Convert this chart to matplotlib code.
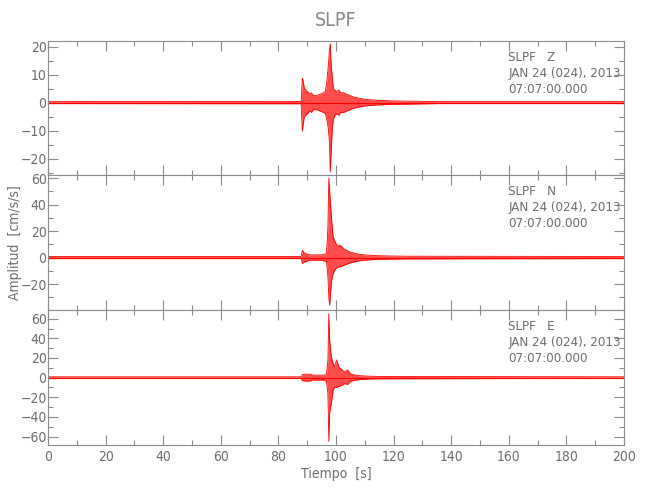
import numpy as np
import matplotlib
matplotlib.use("Agg")
import matplotlib.pyplot as plt
from matplotlib.ticker import MultipleLocator

# ---- data: envelope of each trace (time [s], upper, lower) ----
t_z = [0, 87.9, 88.3, 88.6, 89.0, 89.8, 90.4, 90.9, 91.5, 92.1, 93.2, 94.4, 95.6, 96.3, 96.7, 97.3, 97.7, 98.0,
       98.3, 98.7, 99.1, 99.6, 100.2, 101.0, 101.6, 102.6, 103.7, 105, 106, 107, 108.3, 110, 112, 115, 120, 127, 135, 200]
up_z = [0.35, 0.4, 8.7, 7.8, 5, 4.2, 3.6, 3, 3.5, 2.5, 2.5, 3, 3.5, 4, 6.6, 12.6, 18.6, 21,
        13.8, 9, 4.8, 4.5, 4, 4.5, 3.5, 3.5, 3, 2.5, 2, 1.8, 1.5, 1.2, 1, 0.8, 0.6, 0.5, 0.35, 0.35]
lo_z = [-0.35, -0.4, -10.2, -7.8, -5, -4.2, -3.6, -3, -3.5, -2.5, -2.5, -3, -3.5, -4, -5.4, -9, -13.8, -24.7,
        -18.6, -9, -6, -4.5, -4, -4.5, -3.5, -3.5, -3, -2.5, -2, -1.8, -1.5, -1.2, -1, -0.8, -0.6, -0.5, -0.35, -0.35]

t_n = [0, 87.9, 88.3, 89, 90, 91, 93, 95, 96.7, 97.2, 97.5, 97.8, 98.1, 98.5, 99, 99.5, 100.2, 101.4, 102.6,
       103.7, 105, 106, 108, 110, 113, 118, 125, 200]
up_n = [0.8, 0.8, 5.5, 3.5, 2.5, 2, 2, 2, 3, 23, 60, 50, 40, 28, 15.6, 13, 9.3, 9.3, 6.8,
        5.5, 4, 3.5, 2.5, 2, 1.5, 1.2, 1, 0.8]
lo_n = [-0.8, -0.8, -4.5, -3.5, -2.5, -2, -2, -2, -3, -14.6, -30, -36, -27, -17, -12, -10, -7.5, -7, -6,
        -5, -4, -3.5, -2.5, -2, -1.5, -1.2, -1, -0.8]

t_e = [0, 87.9, 88.3, 89, 90, 91, 92, 94, 96, 96.7, 97.2, 97.5, 97.8, 98.1, 98.5, 99, 99.5, 100.2, 101, 102,
       103, 104, 105, 106, 108, 111, 115, 200]
up_e = [0.8, 0.8, 3, 3.5, 3.5, 3.5, 2.5, 2.5, 2.5, 4, 18, 65, 38, 28, 20, 14.6, 11, 18, 11, 8,
        6, 8, 4, 3, 2, 1.5, 1.2, 0.8]
lo_e = [-0.8, -0.8, -3, -3.5, -3.5, -3.5, -2.5, -2.5, -2.5, -4, -16, -65, -36, -30, -24, -12.6, -10, -10, -9, -8,
        -6, -7, -4, -3, -2, -1.5, -1.2, -0.8]

components = ["Z", "N", "E"]
ylims = [(-26, 22.1), (-39.8, 62), (-68.6, 68.6)]
ymajor = [10, 20, 20]
yminor = [5, 10, 10]
station = "SLPF"
date_text = "JAN 24 (024), 2013"
time_text = "07:07:00.000"
x_ticks = [0, 20, 40, 60, 80, 100, 120, 140, 160, 180, 200]

traces = [(t_z, up_z, lo_z), (t_n, up_n, lo_n), (t_e, up_e, lo_e)]

# ---- style ----
plt.rcParams['font.family'] = ['DejaVu Sans']
plt.rcParams['font.stretch'] = 'condensed'
gray = '#6e6e6e'
spine_gray = '#8c8c8c'
fs = 10

fig = plt.figure(figsize=(6.5, 5.0), dpi=100)
left, right = 48 / 650, 624 / 650
top, bottom = 1 - 40.7 / 500, 1 - 445 / 500
h = (top - bottom) / 3

axes = []
for i in range(3):
    ax = fig.add_axes([left, top - (i + 1) * h, right - left, h])
    axes.append(ax)
    t, up, lo = traces[i]
    ax.fill_between(t, lo, up, color='red', alpha=0.7, linewidth=0)
    ax.plot(t, up, color='red', lw=0.6)
    ax.plot(t, lo, color='red', lw=0.6)
    ax.plot([0, 200], [0, 0], color='red', lw=0.8)
    ax.set_xlim(0, 200)
    ax.set_ylim(*ylims[i])
    ax.xaxis.set_major_locator(MultipleLocator(20))
    ax.xaxis.set_minor_locator(MultipleLocator(10))
    ax.yaxis.set_major_locator(MultipleLocator(ymajor[i]))
    ax.yaxis.set_minor_locator(MultipleLocator(yminor[i]))
    ax.tick_params(which='both', direction='in', top=True, right=True,
                   colors=spine_gray, labelcolor=gray, labelsize=fs, width=0.8)
    ax.tick_params(which='major', length=7)
    ax.tick_params(which='minor', length=3.5)
    ax.tick_params(axis='y', pad=1)
    for s in ax.spines.values():
        s.set_color(spine_gray)
        s.set_linewidth(0.8)
    if i < 2:
        ax.tick_params(labelbottom=False)
    ax.text(0.799, 0.879, f"{station}   {components[i]}", transform=ax.transAxes,
            color=gray, fontsize=9.5, va='center', ha='left')
    ax.text(0.799, 0.760, date_text, transform=ax.transAxes,
            color=gray, fontsize=9.5, va='center', ha='left')
    ax.text(0.799, 0.641, time_text, transform=ax.transAxes,
            color=gray, fontsize=9.5, va='center', ha='left')

axes[2].set_xticks(x_ticks)
axes[2].set_xlabel("Tiempo  [s]", color=gray, fontsize=fs, labelpad=2)
axes[1].set_ylabel("Amplitud  [cm/s/s]", color=gray, fontsize=fs)
axes[1].yaxis.set_label_coords(-0.045, 0.5)
fig.text((left + right) / 2, 1 - 20 / 500, station, color='#888888', fontsize=14,
         ha='center', va='center')

fig.savefig("out.png", dpi=100)
